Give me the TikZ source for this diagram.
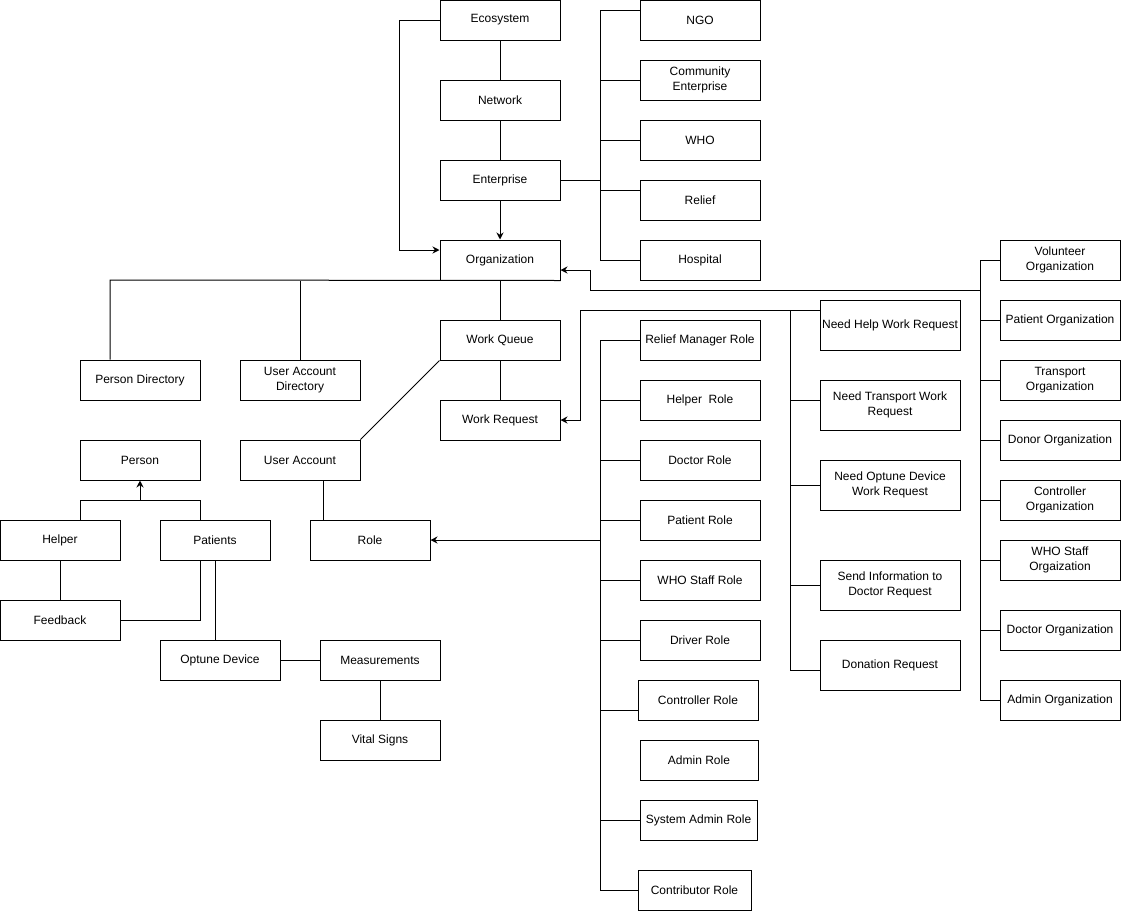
\documentclass[tikz,border=0pt]{standalone}
\usepackage{fontspec}
\setmainfont{Liberation Sans}
\usetikzlibrary{arrows.meta,calc}
\begin{document}
\begin{tikzpicture}[x=1pt,y=-1pt,
  box/.style={draw, line width=1pt, minimum width=120pt, minimum height=40pt, inner sep=0pt, align=center, font=\fontsize{12}{15}\selectfont},
  reqbox/.style={box, minimum width=140pt, minimum height=50pt},
  link/.style={line width=1pt},
  arr/.style={line width=1pt, -{Stealth[length=7pt,width=7pt]}}]
\useasboundingbox (0,0) rectangle (1121,911);
% central column
\node[box] (eco) at (500,20) {Ecosystem};
\node[box] (net) at (500,100) {Network};
\node[box] (ent) at (500,180) {Enterprise};
\node[box] (org) at (500,260) {Organization};
% enterprises
\node[box] (ngo) at (700,20) {NGO};
\node[box] (comm) at (700,80) {Community\\Enterprise};
\node[box] (who) at (700,140) {WHO};
\node[box] (relief) at (700,200) {Relief};
\node[box] (hosp) at (700,260) {Hospital};
% directories
\node[box] (pdir) at (140,380) {Person Directory};
\node[box] (uadir) at (300,380) {User Account\\Directory};
\node[box] (wq) at (500,340) {Work Queue};
\node[box] (wr) at (500,420) {Work Request};
\node[box] (ua) at (300,460) {User Account};
\node[box] (person) at (140,460) {Person};
\node[box] (helper) at (60,540) {Helper};
\node[box, minimum width=110pt] (patients) at (215,540) {Patients};
\node[box] (feedback) at (60,620) {Feedback};
\node[box] (optune) at (220,660) {Optune Device};
\node[box] (meas) at (380,660) {Measurements};
\node[box] (vital) at (380,740) {Vital Signs};
\node[box] (role) at (370,540) {Role};
% roles
\node[box] (relmgr) at (700,340) {Relief Manager Role};
\node[box] (helperrole) at (700,400) {Helper\ \ Role};
\node[box] (doctorrole) at (700,460) {Doctor Role};
\node[box] (patientrole) at (700,520) {Patient Role};
\node[box] (whostaffrole) at (700,580) {WHO Staff Role};
\node[box] (driverrole) at (700,640) {Driver Role};
\node[box] (controllerrole) at (698,700) {Controller Role};
\node[box, minimum width=118pt] (adminrole) at (699,760) {Admin Role};
\node[box, minimum width=117pt] (sysadminrole) at (698.5,820) {System Admin Role};
\node[box, minimum width=113pt] (contribrole) at (694.5,890) {Contributor Role};
% requests
\node[reqbox] (needhelp) at (890,325) {Need Help Work Request};
\node[reqbox] (needtransport) at (890,405) {Need Transport Work\\Request};
\node[reqbox] (needoptune) at (890,485) {Need Optune Device\\Work Request};
\node[reqbox] (sendinfo) at (890,585) {Send Information to\\Doctor Request};
\node[reqbox] (donation) at (890,665) {Donation Request};
% organizations
\node[box] (volorg) at (1060,260) {Volunteer\\Organization};
\node[box] (patorg) at (1060,320) {Patient Organization};
\node[box] (traorg) at (1060,380) {Transport\\Organization};
\node[box] (donorg) at (1060,440) {Donor Organization};
\node[box] (conorg) at (1060,500) {Controller\\Organization};
\node[box] (whoorg) at (1060,560) {WHO Staff\\Orgaization};
\node[box] (docorg) at (1060,630) {Doctor Organization};
\node[box] (admorg) at (1060,700) {Admin Organization};

% central connectors
\draw[link] (eco) -- (net);
\draw[link] (net) -- (ent);
\draw[arr] (ent) -- (org);
\draw[arr] (eco.west) -- ++(-40,0) |- ([yshift=10pt]org.west);
% enterprise spine
\coordinate (e1) at (600,10);
\coordinate (e2) at (600,260);
\draw[link] ([yshift=10pt]ngo.west) -- (e1) -- (e2) -- (hosp.west);
\draw[link] (comm.west) -- (comm.west -| e1);
\draw[link] (who.west) -- (who.west -| e1);
\draw[link] ([yshift=10pt]relief.west) -- ([yshift=10pt]relief.west -| e1);
\draw[link] (ent.east) -- (ent.east -| e1);
% organization bottom
\coordinate (ob) at (110,280);
\draw[link] (org.south east) -- (ob) -- (ob |- pdir.north);
\draw[link] (uadir.north) -- (uadir.north |- org.south);
\draw[link] (org.south) -- (wq.north);
\draw[link] (wq) -- (wr);
\draw[link] (wq.south west) -- (ua.north east);
% person
\coordinate (pj) at (140,500);
\draw[link] ([xshift=20pt]helper.north) |- (pj) -| ([xshift=-15pt]patients.north);
\draw[arr] (pj) -- (person.south);
\draw[link] (helper) -- (feedback);
\draw[link] (feedback.east) -| ([xshift=-15pt]patients.south);
\draw[link] (patients.south) -- (patients.south |- optune.north);
\draw[link] (optune) -- (meas);
\draw[link] (meas) -- (vital);
\draw[link] ([xshift=23pt]ua.south) -- ([xshift=23pt]ua.south |- role.north);
% roles spine
\coordinate (r1) at (600,340);
\coordinate (r2) at (600,890);
\draw[link] (relmgr.west) -- (r1) -- (r2) -- (contribrole.west);
\foreach \n in {helperrole,doctorrole,patientrole,whostaffrole,driverrole,sysadminrole}
  \draw[link] (\n.west) -- (\n.west -| r1);
\draw[link] ([yshift=-10pt]controllerrole.west) -- ([yshift=-10pt]controllerrole.west -| r1);
\draw[arr] (role.east -| r1) -- (role.east);
% requests spine
\coordinate (q1) at (790,310);
\coordinate (q2) at (790,670);
\coordinate (qa) at (580,310);
\draw[arr] ([yshift=15pt]needhelp.west) -- (qa) |- (wr.east);
\draw[link] (q1) -- (q2) -- ([yshift=-5pt]donation.west);
\draw[link] ([yshift=5pt]needtransport.west) -- ([yshift=5pt]needtransport.west -| q1);
\draw[link] (needoptune.west) -- (needoptune.west -| q1);
\draw[link] (sendinfo.west) -- (sendinfo.west -| q1);
% organizations spine
\coordinate (o1) at (980,260);
\coordinate (o2) at (980,700);
\coordinate (oj) at (980,290);
\draw[link] (volorg.west) -- (o1) -- (o2) -- (admorg.west);
\foreach \n in {patorg,traorg,donorg,conorg,whoorg,docorg}
  \draw[link] (\n.west) -- (\n.west -| o1);
\draw[arr] (oj) -- (590,290) |- ([yshift=-10pt]org.east);
\end{tikzpicture}
\end{document}
